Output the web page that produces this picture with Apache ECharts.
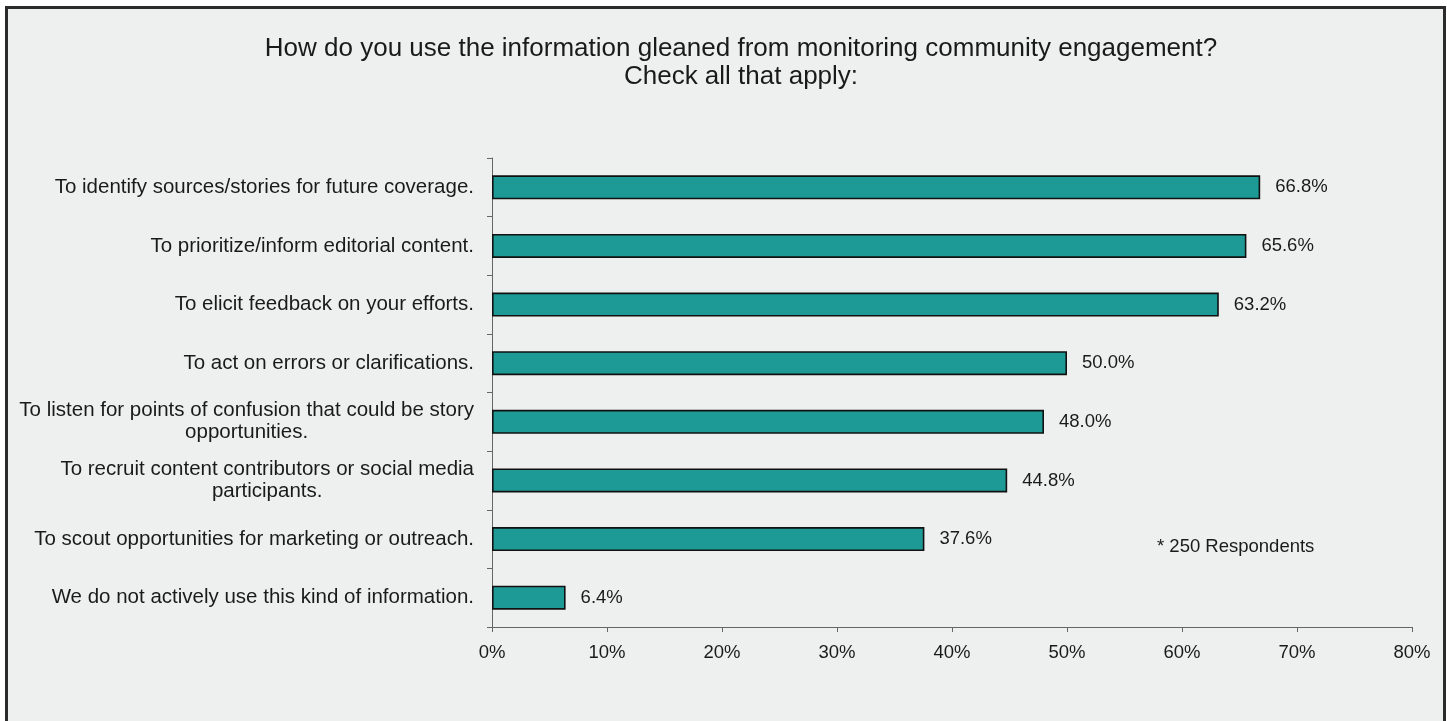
<!DOCTYPE html>
<html>
<head>
<meta charset="utf-8">
<script src="https://cdn.jsdelivr.net/npm/echarts@6/dist/echarts.min.js"></script>
<style>
html,body{margin:0;padding:0;background:#fff;width:1447px;height:721px;overflow:hidden;}
#frame{position:absolute;left:5px;top:6px;width:1435px;height:730px;border:3px solid #2b2b2b;background:#eef0ef;}
#chart{position:absolute;left:0;top:0;width:1447px;height:721px;}
</style>
</head>
<body>
<div id="frame"></div>
<div id="chart"></div>
<script>
const categories = [
  "To identify sources/stories for future coverage.",
  "To prioritize/inform editorial content.",
  "To elicit feedback on your efforts.",
  "To act on errors or clarifications.",
  "To listen for points of confusion that could be story\nopportunities.",
  "To recruit content contributors or social media\nparticipants.",
  "To scout opportunities for marketing or outreach.",
  "We do not actively use this kind of information."
];
const values = [66.8, 65.6, 63.2, 50.0, 48.0, 44.8, 37.6, 6.4];
const xTicks = [0, 10, 20, 30, 40, 50, 60, 70, 80];
const titleText = "How do you use the information gleaned from monitoring community engagement?\nCheck all that apply:";
const noteText = "* 250 Respondents";

const font = "'Liberation Sans', Arial, Helvetica, sans-serif";
const chart = echarts.init(document.getElementById('chart'), null, {renderer: 'canvas'});
chart.setOption({
  backgroundColor: 'transparent',
  animation: false,
  title: {
    text: titleText,
    left: 736, top: 30, textAlign: 'center',
    textStyle: {fontFamily: font, fontSize: 26, fontWeight: 'normal', color: '#1a1a1a', lineHeight: 28}
  },
  grid: {left: 492, right: 35, top: 158, bottom: 94, containLabel: false},
  xAxis: {
    type: 'value', min: 0, max: 80, interval: 10,
    axisLine: {show: true, lineStyle: {color: '#666', width: 1}},
    axisTick: {show: true, length: 5, lineStyle: {color: '#666'}},
    splitLine: {show: false},
    axisLabel: {
      margin: 16, fontFamily: font, fontSize: 18.5, color: '#1a1a1a',
      formatter: v => xTicks.includes(v) ? v + '%' : ''
    }
  },
  yAxis: {
    type: 'category', inverse: true, data: categories,
    axisLine: {show: true, lineStyle: {color: '#666', width: 1}},
    axisTick: {show: true, length: 5, inside: false, lineStyle: {color: '#666'}},
    axisLabel: {
      margin: 18, fontFamily: font, fontSize: 20.5, color: '#1a1a1a', lineHeight: 22,
      formatter: v => v.split('\n').map(s => '{c|' + s + '}').join('\n'),
      rich: {c: {align: 'center', fontFamily: font, fontSize: 20.5, color: '#1a1a1a', lineHeight: 22}}
    }
  },
  series: [{
    type: 'bar', data: values, barWidth: 24,
    itemStyle: {color: '#1e9a96', borderColor: '#111', borderWidth: 1.6},
    label: {
      show: true, position: 'right', distance: 15,
      fontFamily: font, fontSize: 18.5, color: '#1a1a1a',
      formatter: p => p.value.toFixed(1) + '%'
    }
  }],
  graphic: [{
    type: 'text', left: 1157, top: 537,
    style: {text: noteText, fontFamily: font, fontSize: 18.5, fill: '#1a1a1a'}
  }]
});
</script>
</body>
</html>
